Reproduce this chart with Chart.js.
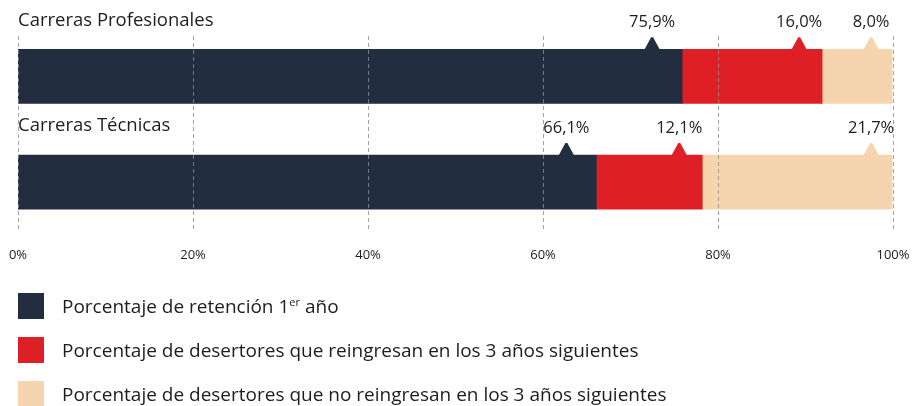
<!DOCTYPE html>
<html>
<head>
<meta charset="utf-8">
<script src="https://cdn.jsdelivr.net/npm/chart.js@4"></script>
<style>
    body { margin: 0; background: #fff; }
    #wrap { position: relative; width: 912px; height: 406px; }
    #legend { position: absolute; left: 18px; top: 293px; font-family: "Open Sans", sans-serif; font-size: 19px; color: #1d1d1b; }
    .item { display: flex; align-items: center; height: 26px; margin-bottom: 18px; }
    .box { width: 26px; height: 26px; margin-right: 18px; }
    sup { font-size: 11px; vertical-align: 7px; line-height: 0; }
</style>
</head>
<body>
<div id="wrap">
    <canvas id="chart" width="912" height="406"></canvas>
    <div id="legend"></div>
</div>
<script>
// Datos del gráfico
const categories = ['Carreras Profesionales', 'Carreras Técnicas'];
const retencion = [75.9, 66.1];
const reingresan = [16.0, 12.1];
const noReingresan = [8.0, 21.7];
const seriesLabels = [
    'Porcentaje de retención 1<sup>er</sup> año',
    'Porcentaje de desertores que reingresan en los 3 años siguientes',
    'Porcentaje de desertores que no reingresan en los 3 años siguientes'
];
const tickValues = [0, 20, 40, 60, 80, 100];

const colors = ['#222d40', '#df1f26', '#f6d5ae'];
// distancia (px) del marcador al final de cada segmento
const markerOffset = [30, 23, 21];
const FONT = '"Open Sans", sans-serif';

function fmt(v) {
    return v.toFixed(1).replace('.', ',') + '%';
}

// Plugin: etiquetas de categoría, marcadores triangulares y líneas punteadas
const overlay = {
    id: 'overlay',
    afterDatasetsDraw(chart) {
        const ctx = chart.ctx;
        const x = chart.scales.x;
        ctx.save();
        ctx.textBaseline = 'middle';

        chart.data.labels.forEach((cat, i) => {
            const first = chart.getDatasetMeta(0).data[i];
            const top = first.y - first.height / 2;

            ctx.font = '18.5px ' + FONT;
            ctx.fillStyle = '#1d1d1b';
            ctx.textAlign = 'left';
            ctx.fillText(cat, x.left, top - 29);

            chart.data.datasets.forEach((ds, d) => {
                const el = chart.getDatasetMeta(d).data[i];
                const mx = el.x - markerOffset[d];

                ctx.fillStyle = ds.backgroundColor;
                ctx.beginPath();
                ctx.moveTo(mx - 7.5, top);
                ctx.lineTo(mx - 1, top - 12);
                ctx.lineTo(mx + 1, top - 12);
                ctx.lineTo(mx + 7.5, top);
                ctx.closePath();
                ctx.fill();

                ctx.font = '16.5px ' + FONT;
                ctx.fillStyle = '#1d1d1b';
                ctx.textAlign = 'center';
                ctx.fillText(fmt(ds.data[i]), mx, top - 27);
            });
        });

        // líneas de la grilla por encima de las barras
        ctx.strokeStyle = 'rgba(140, 140, 140, 0.8)';
        ctx.lineWidth = 1;
        ctx.setLineDash([4, 3]);
        tickValues.forEach(v => {
            const px = Math.round(x.getPixelForValue(v)) + 0.5;
            ctx.beginPath();
            ctx.moveTo(px, 36);
            ctx.lineTo(px, 230);
            ctx.stroke();
        });
        ctx.restore();
    }
};

function initChart() {
    const ctx = document.getElementById('chart').getContext('2d');
    const values = [retencion, reingresan, noReingresan];

    const chart = new Chart(ctx, {
        type: 'bar',
        data: {
            labels: categories,
            datasets: values.map((data, d) => ({
                label: seriesLabels[d],
                data: data,
                backgroundColor: colors[d],
                borderWidth: 0,
                barThickness: 54
            }))
        },
        options: {
            indexAxis: 'y',
            responsive: false,
            animation: false,
            layout: {
                padding: { left: 18, right: 19, top: 23.5, bottom: 129.5 }
            },
            plugins: {
                legend: { display: false },
                tooltip: { enabled: false }
            },
            scales: {
                x: {
                    stacked: true,
                    min: 0,
                    max: 100,
                    grid: { display: false, drawTicks: false },
                    border: { display: false },
                    ticks: {
                        stepSize: 20,
                        padding: 13,
                        color: '#1d1d1b',
                        font: { family: FONT, size: 13 },
                        callback: v => v + '%'
                    },
                    // que las etiquetas de los extremos no cambien el área del gráfico
                    afterFit: scale => {
                        scale.paddingLeft = 0;
                        scale.paddingRight = 0;
                    }
                },
                y: {
                    stacked: true,
                    display: false
                }
            }
        },
        plugins: [overlay]
    });

    // Leyenda en HTML (para el superíndice)
    const legend = document.getElementById('legend');
    chart.data.datasets.forEach(ds => {
        const item = document.createElement('div');
        item.className = 'item';
        item.innerHTML = '<span class="box" style="background:' + ds.backgroundColor + '"></span><span>' + ds.label + '</span>';
        legend.appendChild(item);
    });
}

document.addEventListener('DOMContentLoaded', initChart);
</script>
</body>
</html>
